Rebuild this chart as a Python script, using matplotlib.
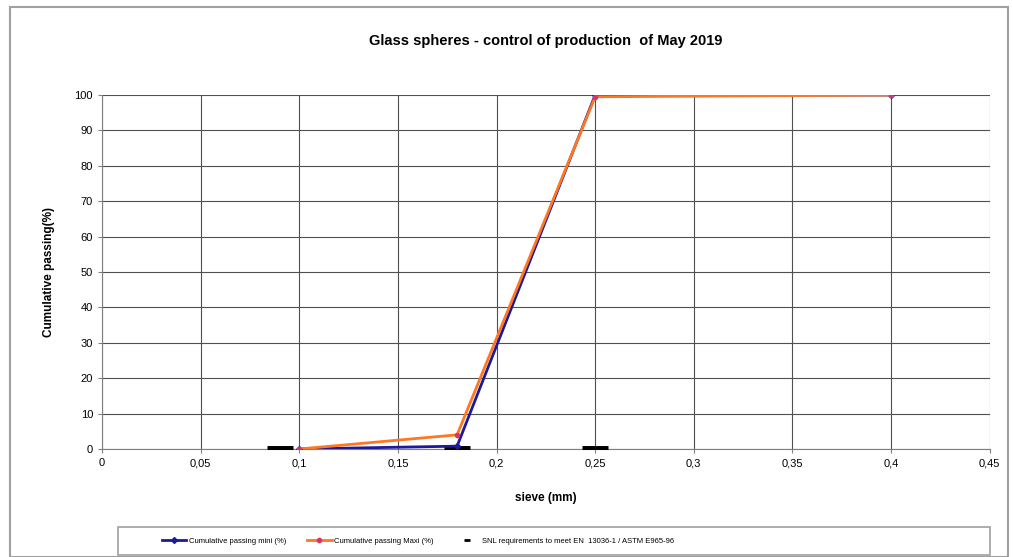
import matplotlib.pyplot as plt
from matplotlib.patches import Rectangle
from matplotlib.lines import Line2D
from matplotlib.ticker import FuncFormatter

plt.rcParams['font.family'] = ['Liberation Sans', 'DejaVu Sans']

sieve = [0.1, 0.18, 0.25, 0.4]
passing_mini = [0, 0.8, 100, 100]
passing_maxi = [0, 4, 99.5, 100]
snl_sieve = [0.09, 0.18, 0.25]
snl_value = [0, 0, 0]

fig = plt.figure(figsize=(10.13, 5.57), dpi=100)
ax = fig.add_axes([0.1007, 0.1939, 0.8763, 0.6355])

# outer chart border
fig.patches.append(Rectangle((0.01, 0.0), 0.985, 0.987, transform=fig.transFigure,
                             fill=False, edgecolor='#a0a0a0', linewidth=1.5))
# legend box
fig.patches.append(Rectangle((0.1165, 0.0036), 0.861, 0.05, transform=fig.transFigure,
                             fill=False, edgecolor='#a0a0a0', linewidth=1.2))

ax.plot(snl_sieve, snl_value, linestyle='none', marker='_', markersize=19,
        markeredgewidth=5, color='black', zorder=3)
ax.plot(sieve, passing_mini, color='#1a1a9a', linewidth=2, marker='D', markersize=3,
        zorder=4, label='Cumulative passing mini (%)')
ax.plot(sieve, passing_maxi, color='#ff7722', linewidth=2, marker='o', markersize=3,
        markerfacecolor='#e0306a', markeredgecolor='#e0306a', zorder=5,
        label='Cumulative passing Maxi (%)')

ax.set_xlim(0, 0.45)
ax.set_ylim(0, 100)
ax.set_xticks([i * 0.05 for i in range(10)])
ax.set_yticks(range(0, 101, 10))
ax.xaxis.set_major_formatter(FuncFormatter(lambda v, p: ('%g' % round(v, 2)).replace('.', ',')))
ax.grid(True, color='#505050', linewidth=0.8)
ax.set_axisbelow(True)
for s in ax.spines.values():
    s.set_color('#808080')
ax.spines['top'].set_visible(False)
ax.spines['right'].set_visible(False)
ax.tick_params(labelsize=8, length=3, color='#808080')

ax.set_title('Glass spheres - control of production  of May 2019', fontsize=10.5,
             fontweight='bold', pad=36)
ax.set_xlabel('sieve (mm)', fontsize=8.5, fontweight='bold', labelpad=17)
ax.set_ylabel('Cumulative passing(%)', fontsize=8.5, fontweight='bold', labelpad=14)

h, l = ax.get_legend_handles_labels()
snl_handle = Line2D([], [], linestyle='none', marker='_', markersize=4,
                    markeredgewidth=2, color='black')
h.append(snl_handle)
l.append('SNL requirements to meet EN  13036-1 / ASTM E965-96')
leg = fig.legend(h, l, ncol=3, fontsize=5.5, loc='center left',
                 bbox_to_anchor=(0.153, 0.029), frameon=False,
                 handlelength=3.2, handletextpad=0.3, columnspacing=2.8)

fig.savefig('out.png', dpi=100)
